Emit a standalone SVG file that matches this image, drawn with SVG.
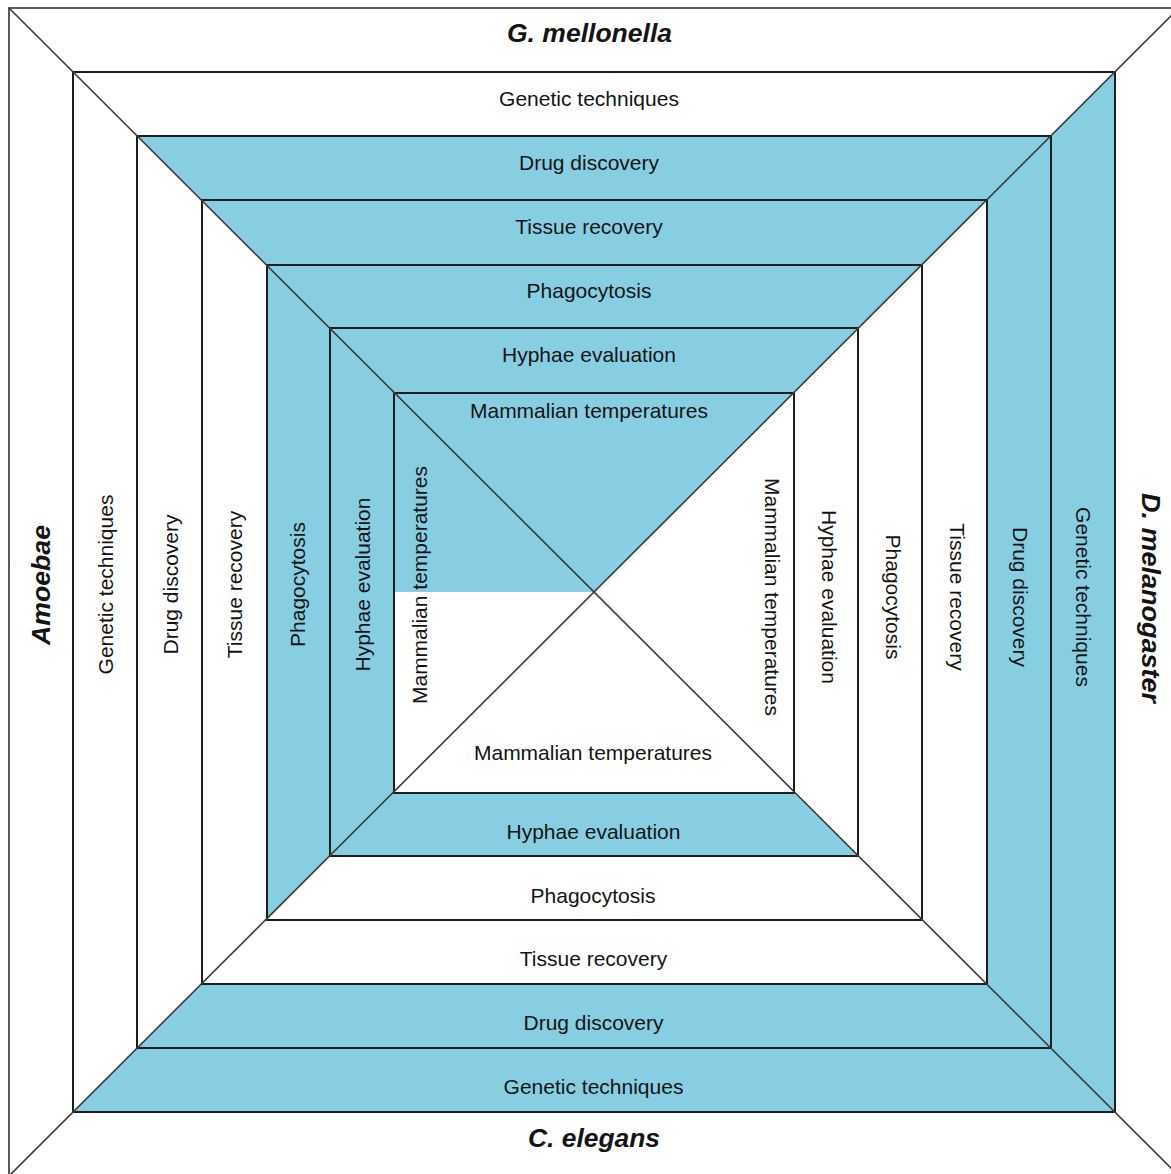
<svg xmlns="http://www.w3.org/2000/svg" width="1171" height="1174" viewBox="0 0 1171 1174">
<style>
.bg{fill:#ffffff}
.blue{fill:#88cee3}
.white{fill:#ffffff}
.sq{fill:none;stroke:#1e1e1e;stroke-width:2}
.frame{fill:none;stroke:#5a5a5a;stroke-width:2}
.diag{stroke:#3a3a3a;stroke-width:1.6}
.t{font-family:"Liberation Sans",Arial,Helvetica,sans-serif;font-size:21px;fill:#141414;text-anchor:middle}
.sp{font-family:"Liberation Sans",Arial,Helvetica,sans-serif;font-size:25px;font-weight:bold;font-style:italic;fill:#141414;text-anchor:middle}
</style>
<rect class="bg" x="0" y="0" width="1171" height="1174"/>

<g id="outer-labels">
  <text class="sp" x="589.5" y="42" textLength="165" lengthAdjust="spacingAndGlyphs">G. mellonella</text>
  <text class="sp" x="594" y="1147" textLength="132" lengthAdjust="spacingAndGlyphs">C. elegans</text>
  <text class="sp" x="50" y="585" textLength="120" lengthAdjust="spacingAndGlyphs" transform="rotate(-90 50 585)">Amoebae</text>
  <text class="sp" x="1142" y="598" textLength="210" lengthAdjust="spacingAndGlyphs" transform="rotate(90 1142 598)">D. melanogaster</text>
</g>

<g id="ring-genetic-techniques">
  <polygon class="white" points="73,72 1115,72 1051,136 137,136"/>
  <polygon class="blue" points="1115,72 1115,1112 1051,1048 1051,136"/>
  <polygon class="blue" points="73,1112 1115,1112 1051,1048 137,1048"/>
  <polygon class="white" points="73,72 137,136 137,1048 73,1112"/>
  <text class="t" x="589" y="106">Genetic techniques</text>
  <text class="t" x="593.5" y="1094">Genetic techniques</text>
  <text class="t" x="113" y="584.5" transform="rotate(-90 113 584.5)">Genetic techniques</text>
  <text class="t" x="1076" y="597" transform="rotate(90 1076 597)">Genetic techniques</text>
</g>

<g id="ring-drug-discovery">
  <polygon class="blue" points="137,136 1051,136 987,200 202,200"/>
  <polygon class="blue" points="1051,136 1051,1048 987,984 987,200"/>
  <polygon class="blue" points="137,1048 1051,1048 987,984 202,984"/>
  <polygon class="white" points="137,136 202,200 202,984 137,1048"/>
  <text class="t" x="589" y="170">Drug discovery</text>
  <text class="t" x="593.5" y="1030">Drug discovery</text>
  <text class="t" x="177.5" y="584.5" transform="rotate(-90 177.5 584.5)">Drug discovery</text>
  <text class="t" x="1013" y="597" transform="rotate(90 1013 597)">Drug discovery</text>
</g>

<g id="ring-tissue-recovery">
  <polygon class="blue" points="202,200 987,200 922,265 267,265"/>
  <polygon class="white" points="987,200 987,984 922,920 922,265"/>
  <polygon class="white" points="202,984 987,984 922,920 267,920"/>
  <polygon class="white" points="202,200 267,265 267,920 202,984"/>
  <text class="t" x="589" y="234">Tissue recovery</text>
  <text class="t" x="593.5" y="966">Tissue recovery</text>
  <text class="t" x="241.5" y="584.5" transform="rotate(-90 241.5 584.5)">Tissue recovery</text>
  <text class="t" x="950" y="597" transform="rotate(90 950 597)">Tissue recovery</text>
</g>

<g id="ring-phagocytosis">
  <polygon class="blue" points="267,265 922,265 858,328 330,328"/>
  <polygon class="white" points="922,265 922,920 858,856 858,328"/>
  <polygon class="white" points="267,920 922,920 858,856 330,856"/>
  <polygon class="blue" points="267,265 330,328 330,856 267,920"/>
  <text class="t" x="589" y="298">Phagocytosis</text>
  <text class="t" x="593" y="903">Phagocytosis</text>
  <text class="t" x="305" y="584.5" transform="rotate(-90 305 584.5)">Phagocytosis</text>
  <text class="t" x="886" y="597" transform="rotate(90 886 597)">Phagocytosis</text>
</g>

<g id="ring-hyphae-evaluation">
  <polygon class="blue" points="330,328 858,328 794,393 394,393"/>
  <polygon class="white" points="858,328 858,856 794,793 794,393"/>
  <polygon class="blue" points="330,856 858,856 794,793 394,793"/>
  <polygon class="blue" points="330,328 394,393 394,793 330,856"/>
  <text class="t" x="589" y="362">Hyphae evaluation</text>
  <text class="t" x="593.5" y="839">Hyphae evaluation</text>
  <text class="t" x="370" y="584.5" transform="rotate(-90 370 584.5)">Hyphae evaluation</text>
  <text class="t" x="822" y="597" transform="rotate(90 822 597)">Hyphae evaluation</text>
</g>

<g id="core-mammalian-temperatures">
  <rect class="white" x="394" y="393" width="400" height="400"/>
  <polygon class="blue" points="394,393 794,393 594,592 394,592"/>
  <text class="t" x="589" y="418">Mammalian temperatures</text>
  <text class="t" x="593" y="760">Mammalian temperatures</text>
  <text class="t" x="427" y="585" transform="rotate(-90 427 585)">Mammalian temperatures</text>
  <text class="t" x="765" y="597" transform="rotate(90 765 597)">Mammalian temperatures</text>
</g>

<g id="connectors">
  <rect class="frame" x="9" y="8" width="1170" height="1168"/>
  <rect class="sq" x="73" y="72" width="1042" height="1040"/>
  <rect class="sq" x="137" y="136" width="914" height="912"/>
  <rect class="sq" x="202" y="200" width="785" height="784"/>
  <rect class="sq" x="267" y="265" width="655" height="655"/>
  <rect class="sq" x="330" y="328" width="528" height="528"/>
  <rect class="sq" x="394" y="393" width="400" height="400"/>
  <line class="diag" x1="9" y1="8" x2="1179" y2="1176"/>
  <line class="diag" x1="1179" y1="8" x2="9" y2="1176"/>
</g>
</svg>
